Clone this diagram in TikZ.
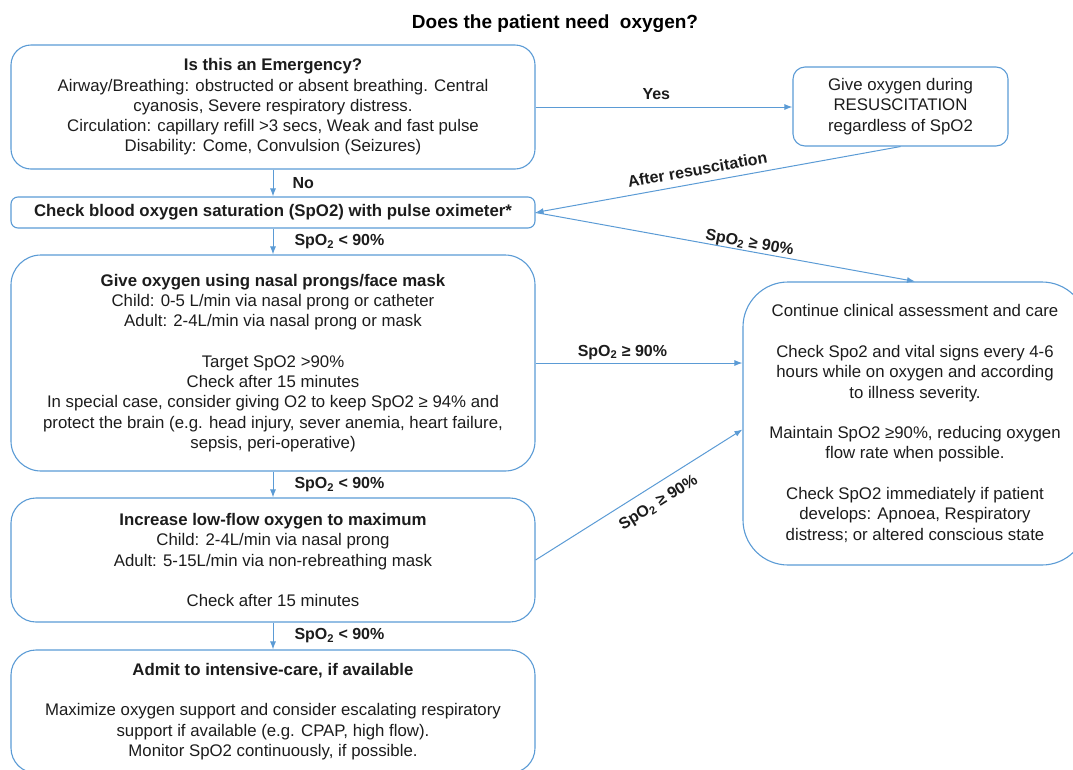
\documentclass[tikz,border=0pt]{standalone}
\usepackage{fontspec}
\setmainfont{Liberation Sans}
\usetikzlibrary{arrows.meta}
\definecolor{flowblue}{RGB}{91,155,213}
\definecolor{flowtext}{RGB}{28,28,28}
\tikzset{%
  stepnode/.style = {shape=rectangle, rounded corners=20pt,%
                     draw=flowblue, line width=1.1pt, align=center,%
                     text=flowtext, inner sep=0pt,%
                     font=\fontsize{16.8}{20.3}\selectfont},%
  widenode/.style = {stepnode, minimum width=524pt},%
  flow/.style     = {draw=flowblue, line width=1pt,%
                     -{Latex[length=8pt,width=6pt]}},%
  lbl/.style      = {font=\bfseries\fontsize{16}{18}\selectfont,%
                     text=flowtext, inner sep=3pt}%
}
\newcommand{\spo}{SpO\textsubscript{2}}

\begin{document}
\begin{tikzpicture}[x=1pt,y=-1pt]
	\useasboundingbox (0,0) rectangle (1073,769);
	\clip (0,0) rectangle (1073,769);
	\node[font=\bfseries\fontsize{19}{22}\selectfont, text=black] (title) at (555,24) {Does the patient need\ \ oxygen?};
	% left column
	\node[widenode, minimum height=124pt] (emerg) at (273,107)
		{\textbf{Is this an Emergency?}\\
		 Airway/Breathing: obstructed or absent breathing. Central\\
		 cyanosis, Severe respiratory distress.\\
		 Circulation: capillary refill >3 secs, Weak and fast pulse\\
		 Disability: Come, Convulsion (Seizures)};
	\node[widenode, minimum height=31pt, rounded corners=7pt] (check) at (273,212.5)
		{\textbf{Check blood oxygen saturation (SpO2) with pulse oximeter*}};
	\node[widenode, minimum height=216pt, rounded corners=30pt] (oxy) at (273,363)
		{\textbf{Give oxygen using nasal prongs/face mask}\\
		 Child: 0-5 L/min via nasal prong or catheter\\
		 Adult: 2-4L/min via nasal prong or mask\\[20.3pt]
		 Target SpO2 >90\%\\
		 Check after 15 minutes\\
		 In special case, consider giving O2 to keep SpO2 ≥ 94\% and\\
		 protect the brain (e.g. head injury, sever anemia, heart failure,\\
		 sepsis, peri-operative)};
	\node[widenode, minimum height=124pt, rounded corners=25pt] (incr) at (273,560)
		{\textbf{Increase low-flow oxygen to maximum}\\
		 Child: 2-4L/min via nasal prong\\
		 Adult: 5-15L/min via non-rebreathing mask\\[20.3pt]
		 Check after 15 minutes};
	\node[widenode, minimum height=123pt, rounded corners=25pt] (icu) at (273,711.5)
		{\textbf{Admit to intensive-care, if available}\\[20.3pt]
		 Maximize oxygen support and consider escalating respiratory\\
		 support if available (e.g. CPAP, high flow).\\
		 Monitor SpO2 continuously, if possible.};
	% right column
	\node[stepnode, minimum width=215pt, minimum height=79pt, rounded corners=12pt] (resus) at (900.5,106.5)
		{Give oxygen during\\ RESUSCITATION\\ regardless of SpO2};
	\node[stepnode, minimum width=344pt, minimum height=283pt, rounded corners=45pt] (cont) at (915,423.5)
		{Continue clinical assessment and care\\[20.3pt]
		 Check Spo2 and vital signs every 4-6\\
		 hours while on oxygen and according\\
		 to illness severity.\\[20.3pt]
		 Maintain SpO2 ≥90\%, reducing oxygen\\
		 flow rate when possible.\\[20.3pt]
		 Check SpO2 immediately if patient\\
		 develops: Apnoea, Respiratory\\
		 distress; or altered conscious state};
	% connectors
	\draw[flow] (emerg) -- node[lbl, right=16pt] {No} (check);
	\draw[flow] (emerg.east) -- node[lbl, above=4pt, pos=0.47] {Yes} (emerg.east -| resus.west);
	\draw[flow] (resus.south) -- node[lbl, sloped, above=4pt, pos=0.55] {After resuscitation} (check.east);
	\draw[flow] (check.east) -- node[lbl, sloped, above=-3pt, pos=0.56] {\spo{} ≥ 90\%} (cont.north);
	\draw[flow] (check) -- node[lbl, right=18pt] {\spo{} < 90\%} (oxy);
	\draw[flow] (oxy.east) -- node[lbl, above, pos=0.42] {\spo{} ≥ 90\%} (oxy.east -| cont.west);
	\draw[flow] (oxy) -- node[lbl, right=18pt] {\spo{} < 90\%} (incr);
	\draw[flow] (incr.east) -- node[lbl, sloped, below=7pt, pos=0.55] {\spo{} ≥ 90\%} ([yshift=-6pt]cont.west);
	\draw[flow] (incr) -- node[lbl, right=18pt] {\spo{} < 90\%} (icu);
\end{tikzpicture}
\end{document}
